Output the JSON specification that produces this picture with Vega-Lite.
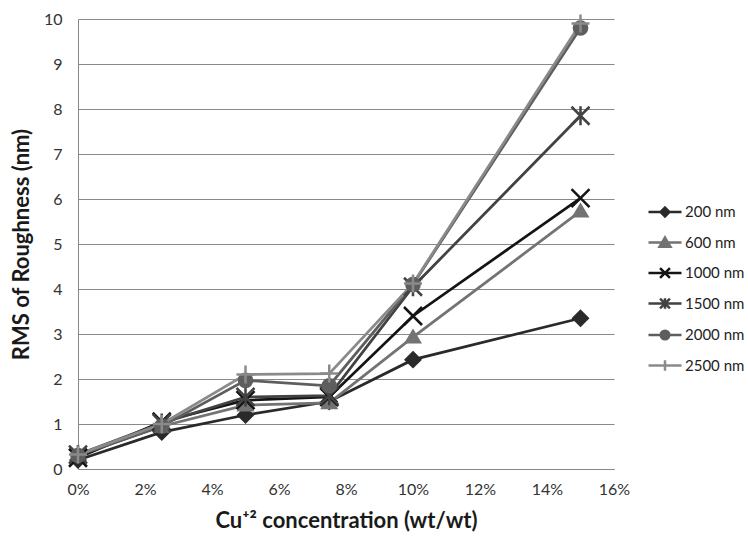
{
  "$schema": "https://vega.github.io/schema/vega-lite/v6.json",
  "width": 536,
  "height": 450,
  "autosize": {"type": "none"},
  "padding": {"left": 78, "top": 19, "right": 134, "bottom": 68},
  "background": "white",
  "config": {
    "view": {"stroke": null},
    "axis": {
      "domainColor": "#888888",
      "gridColor": "#8a8a8a",
      "ticks": false,
      "labelFlush": false,
      "labelFont": "Lato",
      "labelFontSize": 16,
      "labelColor": "#333333",
      "titleFont": "Lato",
      "titleFontWeight": "bold",
      "titleFontSize": 22,
      "titleColor": "#1a1a1a"
    },
    "legend": {
      "labelFont": "Lato",
      "labelFontSize": 15,
      "labelColor": "#222222"
    }
  },
  "data": {
    "values": [
      {"series": "200 nm", "conc": 0, "rms": 0.2},
      {"series": "200 nm", "conc": 0.025, "rms": 0.82},
      {"series": "200 nm", "conc": 0.05, "rms": 1.2},
      {"series": "200 nm", "conc": 0.075, "rms": 1.5},
      {"series": "200 nm", "conc": 0.1, "rms": 2.43},
      {"series": "200 nm", "conc": 0.15, "rms": 3.35},
      {"series": "600 nm", "conc": 0, "rms": 0.3},
      {"series": "600 nm", "conc": 0.025, "rms": 0.95},
      {"series": "600 nm", "conc": 0.05, "rms": 1.42},
      {"series": "600 nm", "conc": 0.075, "rms": 1.47},
      {"series": "600 nm", "conc": 0.1, "rms": 2.93},
      {"series": "600 nm", "conc": 0.15, "rms": 5.73},
      {"series": "1000 nm", "conc": 0, "rms": 0.25},
      {"series": "1000 nm", "conc": 0.025, "rms": 1.05},
      {"series": "1000 nm", "conc": 0.05, "rms": 1.53},
      {"series": "1000 nm", "conc": 0.075, "rms": 1.6},
      {"series": "1000 nm", "conc": 0.1, "rms": 3.4},
      {"series": "1000 nm", "conc": 0.15, "rms": 6.02},
      {"series": "1500 nm", "conc": 0, "rms": 0.32},
      {"series": "1500 nm", "conc": 0.025, "rms": 1.02},
      {"series": "1500 nm", "conc": 0.05, "rms": 1.6},
      {"series": "1500 nm", "conc": 0.075, "rms": 1.63},
      {"series": "1500 nm", "conc": 0.1, "rms": 4.05},
      {"series": "1500 nm", "conc": 0.15, "rms": 7.85},
      {"series": "2000 nm", "conc": 0, "rms": 0.3},
      {"series": "2000 nm", "conc": 0.025, "rms": 0.95},
      {"series": "2000 nm", "conc": 0.05, "rms": 1.97},
      {"series": "2000 nm", "conc": 0.075, "rms": 1.85},
      {"series": "2000 nm", "conc": 0.1, "rms": 4.1},
      {"series": "2000 nm", "conc": 0.15, "rms": 9.8},
      {"series": "2500 nm", "conc": 0, "rms": 0.32},
      {"series": "2500 nm", "conc": 0.025, "rms": 1.0},
      {"series": "2500 nm", "conc": 0.05, "rms": 2.1},
      {"series": "2500 nm", "conc": 0.075, "rms": 2.12},
      {"series": "2500 nm", "conc": 0.1, "rms": 4.12},
      {"series": "2500 nm", "conc": 0.15, "rms": 9.9}
    ]
  },
  "encoding": {
    "x": {
      "field": "conc", "type": "quantitative",
      "scale": {"domain": [0, 0.16], "nice": false},
      "axis": {
        "values": [0, 0.02, 0.04, 0.06, 0.08, 0.1, 0.12, 0.14, 0.16],
        "format": ".0%", "grid": false, "labelPadding": 12, "titlePadding": 13,
        "title": "Cu⁺² concentration (wt/wt)"
      }
    },
    "y": {
      "field": "rms", "type": "quantitative",
      "scale": {"domain": [0, 10], "nice": false},
      "axis": {
        "values": [0, 1, 2, 3, 4, 5, 6, 7, 8, 9, 10],
        "grid": true, "labelPadding": 16, "titlePadding": 10,
        "title": "RMS of Roughness (nm)"
      }
    }
  },
  "layer": [
    {
      "transform": [{"filter": {"field": "rms", "lt": -100}}],
      "mark": {"type": "point", "filled": true},
      "encoding": {
        "fill": {
          "field": "series", "type": "nominal",
          "scale": {
            "domain": ["200 nm", "600 nm", "1000 nm", "1500 nm", "2000 nm", "2500 nm"],
            "range": ["#2a2a2a", "#737373", "#141414", "#424242", "#5e5e5e", "#8a8a8a"]
          },
          "legend": {
            "title": null, "orient": "none", "legendX": 569, "legendY": 175,
            "symbolSize": 1089, "symbolStrokeWidth": 2.5, "symbolOpacity": 1,
            "labelOffset": 2, "rowPadding": 2.5
          }
        },
        "stroke": {
          "field": "series", "type": "nominal",
          "scale": {
            "domain": ["200 nm", "600 nm", "1000 nm", "1500 nm", "2000 nm", "2500 nm"],
            "range": ["#2a2a2a", "#737373", "#141414", "#424242", "#5e5e5e", "#8a8a8a"]
          },
          "legend": {
            "title": null, "orient": "none", "legendX": 569, "legendY": 175,
            "symbolSize": 1089, "symbolStrokeWidth": 2.5, "symbolOpacity": 1,
            "labelOffset": 2, "rowPadding": 2.5
          }
        },
        "shape": {
          "field": "series", "type": "nominal",
          "scale": {
            "domain": ["200 nm", "600 nm", "1000 nm", "1500 nm", "2000 nm", "2500 nm"],
            "range": [
              "M-1,0L1,0M0,-0.27L0.27,0L0,0.27L-0.27,0Z",
              "M-1,0L1,0M0,-0.3L0.33,0.25L-0.33,0.25Z",
              "M-1,0L1,0M-0.3,-0.3L0.3,0.3M-0.3,0.3L0.3,-0.3",
              "M-1,0L1,0M-0.3,-0.3L0.3,0.3M-0.3,0.3L0.3,-0.3M0,-0.32L0,0.32",
              "M-1,0L1,0M0.26,0A0.26,0.26,0,1,1,-0.26,0A0.26,0.26,0,1,1,0.26,0Z",
              "M-1,0L1,0M0,-0.32L0,0.32"
            ]
          },
          "legend": {
            "title": null, "orient": "none", "legendX": 569, "legendY": 175,
            "symbolSize": 1089, "symbolStrokeWidth": 2.5, "symbolOpacity": 1,
            "labelOffset": 2, "rowPadding": 2.5
          }
        }
      }
    },
    {
      "mark": {"type": "line", "strokeWidth": 2.75},
      "encoding": {
        "stroke": {
          "field": "series", "type": "nominal",
          "scale": {"domain": ["200 nm", "600 nm", "1000 nm", "1500 nm", "2000 nm", "2500 nm"]},
          "legend": null
        }
      }
    },
    {
      "transform": [{"filter": {"field": "series", "equal": "200 nm"}}],
      "mark": {"type": "point", "filled": true, "size": 400, "strokeWidth": 2.5, "opacity": 1, "shape": "M0,-0.72L0.72,0L0,0.72L-0.72,0Z"},
      "encoding": {
        "stroke": {"field": "series", "type": "nominal", "scale": {"domain": ["200 nm", "600 nm", "1000 nm", "1500 nm", "2000 nm", "2500 nm"]}, "legend": null},
        "fill": {"field": "series", "type": "nominal", "scale": {"domain": ["200 nm", "600 nm", "1000 nm", "1500 nm", "2000 nm", "2500 nm"]}, "legend": null}
      }
    },
    {
      "transform": [{"filter": {"field": "series", "equal": "600 nm"}}],
      "mark": {"type": "point", "filled": true, "size": 400, "strokeWidth": 2.5, "opacity": 1, "shape": "M0,-0.62L0.68,0.52L-0.68,0.52Z"},
      "encoding": {
        "stroke": {"field": "series", "type": "nominal", "scale": {"domain": ["200 nm", "600 nm", "1000 nm", "1500 nm", "2000 nm", "2500 nm"]}, "legend": null},
        "fill": {"field": "series", "type": "nominal", "scale": {"domain": ["200 nm", "600 nm", "1000 nm", "1500 nm", "2000 nm", "2500 nm"]}, "legend": null}
      }
    },
    {
      "transform": [{"filter": {"field": "series", "equal": "1000 nm"}}],
      "mark": {"type": "point", "filled": true, "size": 400, "strokeWidth": 2.5, "opacity": 1, "shape": "M-0.9,-0.9L0.9,0.9M-0.9,0.9L0.9,-0.9"},
      "encoding": {
        "stroke": {"field": "series", "type": "nominal", "scale": {"domain": ["200 nm", "600 nm", "1000 nm", "1500 nm", "2000 nm", "2500 nm"]}, "legend": null},
        "fill": {"field": "series", "type": "nominal", "scale": {"domain": ["200 nm", "600 nm", "1000 nm", "1500 nm", "2000 nm", "2500 nm"]}, "legend": null}
      }
    },
    {
      "transform": [{"filter": {"field": "series", "equal": "1500 nm"}}],
      "mark": {"type": "point", "filled": true, "size": 400, "strokeWidth": 2.5, "opacity": 1, "shape": "M-0.9,-0.9L0.9,0.9M-0.9,0.9L0.9,-0.9M0,-0.95L0,0.95"},
      "encoding": {
        "stroke": {"field": "series", "type": "nominal", "scale": {"domain": ["200 nm", "600 nm", "1000 nm", "1500 nm", "2000 nm", "2500 nm"]}, "legend": null},
        "fill": {"field": "series", "type": "nominal", "scale": {"domain": ["200 nm", "600 nm", "1000 nm", "1500 nm", "2000 nm", "2500 nm"]}, "legend": null}
      }
    },
    {
      "transform": [{"filter": {"field": "series", "equal": "2000 nm"}}],
      "mark": {"type": "point", "filled": true, "size": 400, "strokeWidth": 2.5, "opacity": 1, "shape": "M0.66,0A0.66,0.66,0,1,1,-0.66,0A0.66,0.66,0,1,1,0.66,0Z"},
      "encoding": {
        "stroke": {"field": "series", "type": "nominal", "scale": {"domain": ["200 nm", "600 nm", "1000 nm", "1500 nm", "2000 nm", "2500 nm"]}, "legend": null},
        "fill": {"field": "series", "type": "nominal", "scale": {"domain": ["200 nm", "600 nm", "1000 nm", "1500 nm", "2000 nm", "2500 nm"]}, "legend": null}
      }
    },
    {
      "transform": [{"filter": {"field": "series", "equal": "2500 nm"}}],
      "mark": {"type": "point", "filled": true, "size": 400, "strokeWidth": 2.5, "opacity": 1, "shape": "M-0.9,0L0.9,0M0,-0.9L0,0.9"},
      "encoding": {
        "stroke": {"field": "series", "type": "nominal", "scale": {"domain": ["200 nm", "600 nm", "1000 nm", "1500 nm", "2000 nm", "2500 nm"]}, "legend": null},
        "fill": {"field": "series", "type": "nominal", "scale": {"domain": ["200 nm", "600 nm", "1000 nm", "1500 nm", "2000 nm", "2500 nm"]}, "legend": null}
      }
    }
  ]
}
